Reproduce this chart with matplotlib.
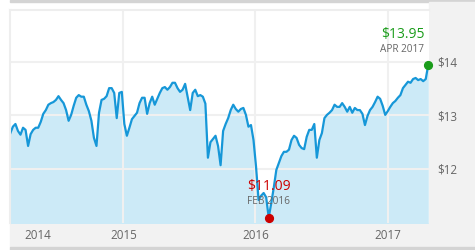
import matplotlib.pyplot as plt
from matplotlib.patches import Rectangle
import numpy as np
import pandas as pd

plt.rcParams["font.family"] = ["Open Sans", "DejaVu Sans"]

# weekly closing prices
start_date = "2014-02-23"
prices = [
    12.67, 12.79, 12.84, 12.71, 12.64, 12.77, 12.73, 12.43, 12.65, 12.73,
    12.77, 12.77, 12.88, 13.03, 13.10, 13.20, 13.23, 13.25, 13.29, 13.36,
    13.29, 13.23, 13.10, 12.90, 13.01, 13.18, 13.33, 13.38, 13.35, 13.35,
    13.20, 13.08, 12.90, 12.58, 12.43, 13.05, 13.29, 13.31, 13.36, 13.51,
    13.51, 13.42, 12.95, 13.42, 13.44, 12.84, 12.62, 12.77, 12.93, 12.99,
    13.05, 13.23, 13.33, 13.33, 13.03, 13.23, 13.35, 13.20, 13.31, 13.42,
    13.51, 13.53, 13.48, 13.53, 13.61, 13.61, 13.51, 13.44, 13.48, 13.59,
    13.35, 13.10, 13.42, 13.48, 13.36, 13.38, 13.35, 13.22, 12.21, 12.50,
    12.56, 12.62, 12.43, 12.07, 12.71, 12.84, 12.95, 13.10, 13.20, 13.12,
    13.07, 13.12, 13.14, 13.01, 12.79, 12.82, 12.54, 12.04, 11.42, 11.50,
    11.55, 11.47, 11.09, 11.36, 11.65, 11.98, 12.11, 12.24, 12.32, 12.32,
    12.36, 12.54, 12.62, 12.58, 12.45, 12.39, 12.37, 12.60, 12.73, 12.73,
    12.84, 12.21, 12.54, 12.67, 12.95, 13.01, 13.05, 13.10, 13.20, 13.16,
    13.16, 13.23, 13.16, 13.07, 13.16, 13.05, 13.14, 13.10, 13.10, 13.03,
    12.82, 12.99, 13.10, 13.16, 13.25, 13.35, 13.31, 13.18, 13.01, 13.08,
    13.16, 13.23, 13.27, 13.33, 13.38, 13.51, 13.57, 13.63, 13.61, 13.68,
    13.70, 13.66, 13.68, 13.64, 13.68, 13.95,
]
year_ticks = ["2014-05-11", "2015-01-01", "2016-01-01", "2017-01-01"]
year_labels = ["2014", "2015", "2016", "2017"]
price_ticks = [12, 13, 14]
price_labels = ["$12", "$13", "$14"]

dates = pd.date_range(start_date, periods=len(prices), freq="7D")
values = np.array(prices)

W, H = 475, 250
fig = plt.figure(figsize=(W / 100, H / 100), dpi=100)
fig.patch.set_facecolor("white")

# page chrome: top bar, right panel, bottom band
fig.add_artist(Rectangle((10 / W, 1 - 2 / H), 1, 2 / H, transform=fig.transFigure,
                         color="#d4d4d4", zorder=0))
fig.add_artist(Rectangle((429 / W, 0), 1, 1 - 2 / H, transform=fig.transFigure,
                         color="#f2f2f2", zorder=0))
fig.add_artist(Rectangle((10 / W, 3 / H), 1, 24 / H, transform=fig.transFigure,
                         color="#f2f2f2", zorder=0))
fig.add_artist(Rectangle((10 / W, 0), 1, 3 / H, transform=fig.transFigure,
                         color="#d4d4d4", zorder=0))

ax = fig.add_axes([10 / W, 27 / H, 419 / W, 213 / H])
ax.set_facecolor("white")

ax.fill_between(dates, values, 10, color="#cceaf7", lw=0)
ax.plot(dates, values, color="#1697d8", lw=1.6)

ax.set_xlim(pd.Timestamp("2014-02-22"), pd.Timestamp("2017-04-25"))
ax.set_ylim(10.99, 14.97)

ax.set_xticks(pd.to_datetime(year_ticks))
ax.set_xticklabels(year_labels)
ax.set_yticks(price_ticks)
ax.set_yticklabels(price_labels)
ax.yaxis.tick_right()
ax.tick_params(axis="x", length=0, pad=4, labelsize=8.4, labelcolor="#666666")
ax.tick_params(axis="y", length=0, pad=5.8, labelsize=8.4, labelcolor="#666666")

ax.grid(True, color="#f0f0f0", lw=1.5)
ax.get_xgridlines()[0].set_visible(False)

for side in ["right", "bottom"]:
    ax.spines[side].set_visible(False)
for side in ["top", "left"]:
    ax.spines[side].set_color("#eeeeee")
    ax.spines[side].set_linewidth(1.5)

# high and low markers
imax = int(np.argmax(values))
imin = int(np.argmin(values))

ax.plot(dates[imax], values[imax], "o", color="#1a9c1a", ms=5.6, clip_on=False, zorder=5)
ax.annotate(f"${values[imax]:.2f}", (dates[imax], values[imax]),
            xytext=(-2.5, 22), textcoords="offset points", ha="right", va="center",
            fontsize=10, color="#1a9c1a", zorder=6)
ax.annotate(f"{dates[imax]:%b %Y}".upper(), (dates[imax], values[imax]),
            xytext=(-2.8, 11), textcoords="offset points", ha="right", va="center",
            fontsize=7.2, color="#666666", zorder=6)

ax.plot(dates[imin], values[imin], "o", color="#cc0000", ms=5.6, clip_on=False, zorder=5)
ax.annotate(f"${values[imin]:.2f}", (dates[imin], values[imin]),
            xytext=(0, 22.5), textcoords="offset points", ha="center", va="center",
            fontsize=10, color="#cc0000", zorder=6)
ax.annotate(f"{dates[imin]:%b %Y}".upper(), (dates[imin], values[imin]),
            xytext=(0, 11.5), textcoords="offset points", ha="center", va="center",
            fontsize=7.2, color="#666666", zorder=6)

fig.savefig("out.png", dpi=100)
